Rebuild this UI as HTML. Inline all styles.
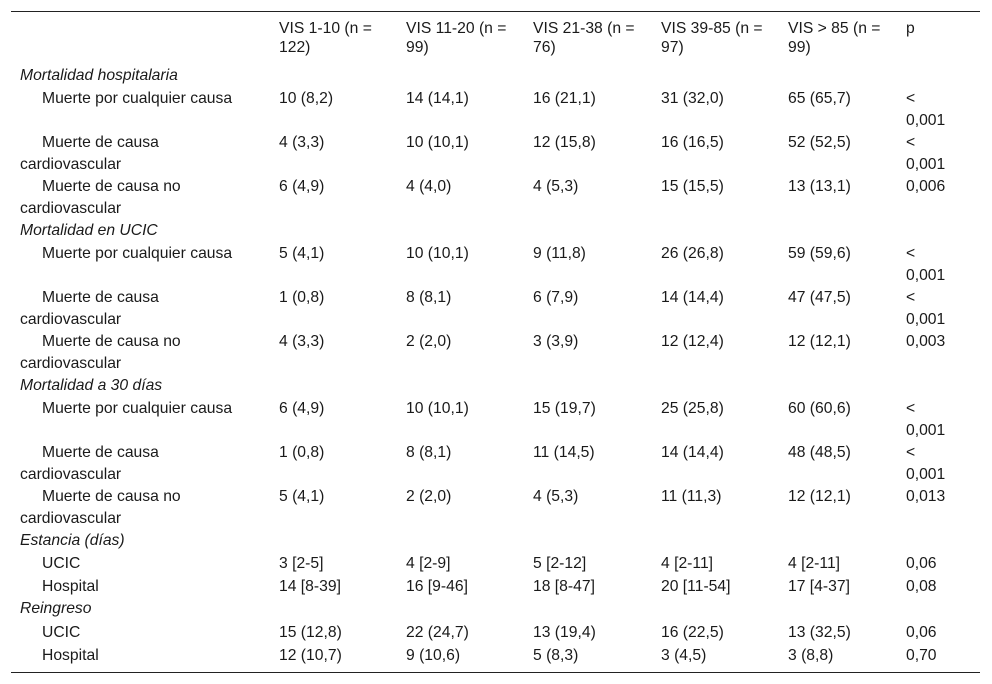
<!DOCTYPE html>
<html><head><meta charset="utf-8"><style>
body{margin:0;width:992px;height:684px;background:#fff;position:relative;font-family:"Liberation Sans",Arial,sans-serif;font-size:15.7px;color:#1a1a1a;overflow:hidden}
div.t{position:absolute;line-height:18px;white-space:nowrap}
.i{font-style:italic}
.ln{position:absolute;left:11px;width:969px;height:1px;background:#222}
</style></head><body>
<div class="ln" style="top:11px"></div>
<div class="ln" style="top:672px"></div>
<div id="c"></div>
<script>
var L=[];
function t(x,y,s,c){L.push('<div class="t'+(c?' '+c:'')+'" style="left:'+x+'px;top:'+(y-8)+'px">'+s+'</div>');}
var X=[279,406,533,661,788,906];
var H=[["VIS 1-10 (n =","122)"],["VIS 11-20 (n =","99)"],["VIS 21-38 (n =","76)"],["VIS 39-85 (n =","97)"],["VIS &gt; 85 (n =","99)"]];
H.forEach(function(h,i){t(X[i],28,h[0]);t(X[i],47,h[1]);});
t(906,28,"p");
function sec(y,s){t(20,y,s,"i");}
function row(y,l1,l2,v,p){t(42,y,l1);if(l2)t(20,y+22,l2);
 v.forEach(function(s,i){t(X[i],y,s);});
 if(p=="<"){t(906,y,"&lt;");t(906,y+22,"0,001");}else t(906,y,p);}
sec(75,"Mortalidad hospitalaria");
row(98,"Muerte por cualquier causa",null,["10 (8,2)","14 (14,1)","16 (21,1)","31 (32,0)","65 (65,7)"],"<");
row(142,"Muerte de causa","cardiovascular",["4 (3,3)","10 (10,1)","12 (15,8)","16 (16,5)","52 (52,5)"],"<");
row(186,"Muerte de causa no","cardiovascular",["6 (4,9)","4 (4,0)","4 (5,3)","15 (15,5)","13 (13,1)"],"0,006");
sec(230,"Mortalidad en UCIC");
row(253,"Muerte por cualquier causa",null,["5 (4,1)","10 (10,1)","9 (11,8)","26 (26,8)","59 (59,6)"],"<");
row(297,"Muerte de causa","cardiovascular",["1 (0,8)","8 (8,1)","6 (7,9)","14 (14,4)","47 (47,5)"],"<");
row(341,"Muerte de causa no","cardiovascular",["4 (3,3)","2 (2,0)","3 (3,9)","12 (12,4)","12 (12,1)"],"0,003");
sec(385,"Mortalidad a 30 días");
row(408,"Muerte por cualquier causa",null,["6 (4,9)","10 (10,1)","15 (19,7)","25 (25,8)","60 (60,6)"],"<");
row(452,"Muerte de causa","cardiovascular",["1 (0,8)","8 (8,1)","11 (14,5)","14 (14,4)","48 (48,5)"],"<");
row(496,"Muerte de causa no","cardiovascular",["5 (4,1)","2 (2,0)","4 (5,3)","11 (11,3)","12 (12,1)"],"0,013");
sec(540,"Estancia (días)");
row(563,"UCIC",null,["3 [2-5]","4 [2-9]","5 [2-12]","4 [2-11]","4 [2-11]"],"0,06");
row(586,"Hospital",null,["14 [8-39]","16 [9-46]","18 [8-47]","20 [11-54]","17 [4-37]"],"0,08");
sec(608,"Reingreso");
row(632,"UCIC",null,["15 (12,8)","22 (24,7)","13 (19,4)","16 (22,5)","13 (32,5)"],"0,06");
row(655,"Hospital",null,["12 (10,7)","9 (10,6)","5 (8,3)","3 (4,5)","3 (8,8)"],"0,70");
document.getElementById("c").innerHTML=L.join("");
</script>
</body></html>
